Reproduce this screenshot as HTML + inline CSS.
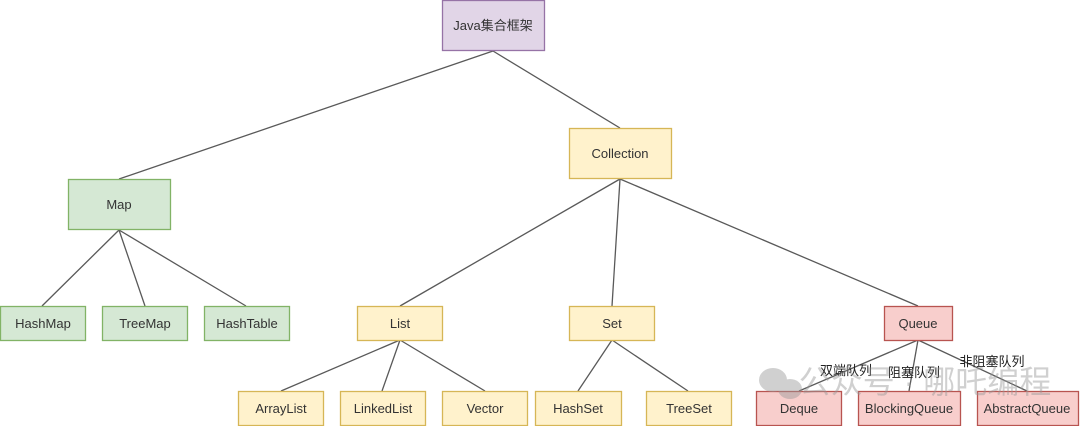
<!DOCTYPE html>
<html><head><meta charset="utf-8"><style>
html,body{margin:0;padding:0;background:#fff;}
svg text{font-family:"Liberation Sans","Noto Sans CJK SC",sans-serif;}
</style></head><body>
<svg width="1080" height="426" xmlns="http://www.w3.org/2000/svg">
<g stroke="#595959" stroke-width="1.3" fill="none">
<line x1="493" y1="51" x2="119" y2="179"/>
<line x1="493" y1="51" x2="620" y2="128"/>
<line x1="119" y1="230" x2="42" y2="306"/>
<line x1="119" y1="230" x2="145" y2="306"/>
<line x1="119" y1="230" x2="246" y2="306"/>
<line x1="620" y1="179" x2="400" y2="306"/>
<line x1="620" y1="179" x2="612" y2="306"/>
<line x1="620" y1="179" x2="918" y2="306"/>
<line x1="400" y1="340" x2="281" y2="391"/>
<line x1="400" y1="340" x2="382" y2="391"/>
<line x1="400" y1="340" x2="485" y2="391"/>
<line x1="612" y1="340" x2="578" y2="391"/>
<line x1="612" y1="340" x2="688" y2="391"/>
<line x1="918" y1="340" x2="799" y2="391"/>
<line x1="918" y1="340" x2="909" y2="391"/>
<line x1="918" y1="340" x2="1027" y2="391"/>
</g>
<g stroke-width="1.3">
<rect x="442.5" y="0.5" width="102" height="50" fill="#e1d5e7" stroke="#9673a6"/>
<rect x="569.5" y="128.5" width="102" height="50" fill="#fff2cc" stroke="#d6b656"/>
<rect x="68.5" y="179.5" width="102" height="50" fill="#d5e8d4" stroke="#82b366"/>
<rect x="0.5" y="306.5" width="85" height="34" fill="#d5e8d4" stroke="#82b366"/>
<rect x="102.5" y="306.5" width="85" height="34" fill="#d5e8d4" stroke="#82b366"/>
<rect x="204.5" y="306.5" width="85" height="34" fill="#d5e8d4" stroke="#82b366"/>
<rect x="357.5" y="306.5" width="85" height="34" fill="#fff2cc" stroke="#d6b656"/>
<rect x="569.5" y="306.5" width="85" height="34" fill="#fff2cc" stroke="#d6b656"/>
<rect x="884.5" y="306.5" width="68" height="34" fill="#f8cecc" stroke="#b85450"/>
<rect x="238.5" y="391.5" width="85" height="34" fill="#fff2cc" stroke="#d6b656"/>
<rect x="340.5" y="391.5" width="85" height="34" fill="#fff2cc" stroke="#d6b656"/>
<rect x="442.5" y="391.5" width="85" height="34" fill="#fff2cc" stroke="#d6b656"/>
<rect x="535.5" y="391.5" width="86" height="34" fill="#fff2cc" stroke="#d6b656"/>
<rect x="646.5" y="391.5" width="85" height="34" fill="#fff2cc" stroke="#d6b656"/>
<rect x="756.5" y="391.5" width="85" height="34" fill="#f8cecc" stroke="#b85450"/>
<rect x="858.5" y="391.5" width="102" height="34" fill="#f8cecc" stroke="#b85450"/>
<rect x="977.5" y="391.5" width="101" height="34" fill="#f8cecc" stroke="#b85450"/>
</g>
<g font-size="13" fill="#333" text-anchor="middle">
<text x="493" y="30">Java集合框架</text>
<text x="620" y="158">Collection</text>
<text x="119" y="209">Map</text>
<text x="43" y="328">HashMap</text>
<text x="145" y="328">TreeMap</text>
<text x="247" y="328">HashTable</text>
<text x="400" y="328">List</text>
<text x="612" y="328">Set</text>
<text x="918" y="328">Queue</text>
<text x="281" y="413">ArrayList</text>
<text x="383" y="413">LinkedList</text>
<text x="485" y="413">Vector</text>
<text x="578" y="413">HashSet</text>
<text x="689" y="413">TreeSet</text>
<text x="799" y="413">Deque</text>
<text x="909" y="413">BlockingQueue</text>
<text x="1027" y="413">AbstractQueue</text>
</g>
<g font-size="13" fill="#222" text-anchor="middle">
<text x="846" y="375">双端队列</text>
<text x="914" y="377">阻塞队列</text>
<text x="992" y="366">非阻塞队列</text>
</g>
<g fill="#999" opacity="0.45">
<ellipse cx="773" cy="380" rx="14" ry="12"/>
<ellipse cx="790" cy="389" rx="12" ry="10"/>
<text x="925" y="393" font-size="32" text-anchor="middle">公众号 · 哪吒编程</text>
</g>
</svg>
</body></html>
